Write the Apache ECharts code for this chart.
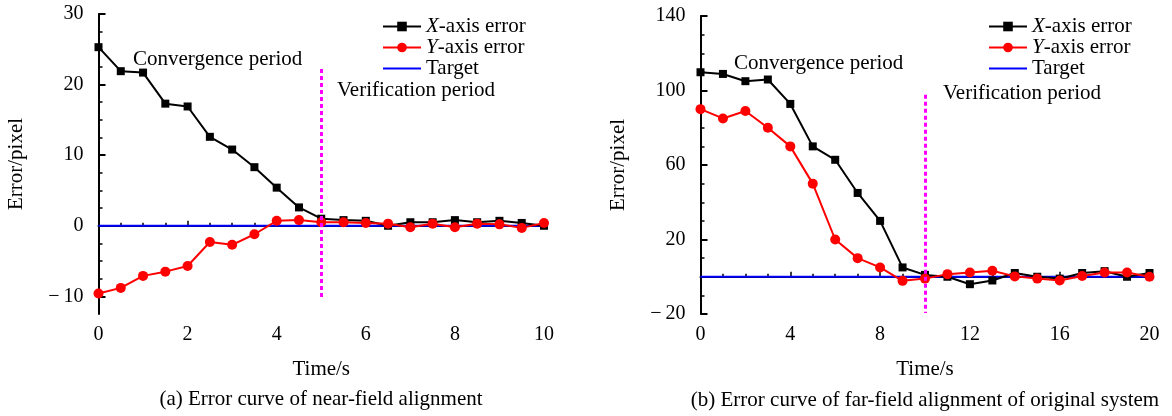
<!DOCTYPE html>
<html>
<head>
<meta charset="utf-8">
<script src="https://cdn.jsdelivr.net/npm/echarts@6/dist/echarts.min.js"></script>
<style>
  html, body { margin: 0; padding: 0; background: #fff; }
  #main { width: 1172px; height: 416px; }
</style>
</head>
<body>
<div id="main"></div>
<script>
// (a) near-field alignment
var timeA = [0, 0.5, 1, 1.5, 2, 2.5, 3, 3.5, 4, 4.5, 5, 5.5, 6, 6.5, 7, 7.5, 8, 8.5, 9, 9.5, 10];
var xErrA = [25.3, 21.9, 21.7, 17.3, 16.9, 12.6, 10.8, 8.3, 5.4, 2.6, 1.0, 0.8, 0.7, 0.0, 0.5, 0.5, 0.8, 0.5, 0.7, 0.4, 0.0];
var yErrA = [-9.6, -8.8, -7.1, -6.5, -5.7, -2.3, -2.7, -1.2, 0.7, 0.8, 0.5, 0.5, 0.4, 0.3, -0.2, 0.3, -0.2, 0.3, 0.2, -0.3, 0.4];
var targetA = [[0, 0], [10, 0]];
var dividerA = [5, 22.2, -10.35];   // t, top, bottom
var yTicksA = [-10, 0, 10, 20, 30];
var yMinorA = [-7.5, -5, -2.5, 2.5, 5, 7.5, 12.5, 15, 17.5, 22.5, 25, 27.5];

// (b) far-field alignment of original system
var timeB = [0, 1, 2, 3, 4, 5, 6, 7, 8, 9, 10, 11, 12, 13, 14, 15, 16, 17, 18, 19, 20];
var xErrB = [109.8, 108.9, 105, 105.9, 92.8, 70, 62.8, 45, 30, 5, 1, 0, -4, -2, 2, 0, -1, 2, 3, 0, 2];
var yErrB = [90, 85, 89, 80, 70, 50, 20, 10, 5, -2.2, -1, 1.4, 2.3, 3.2, 0.2, -1, -2, 0.4, 2.3, 2.3, 0];
var targetB = [[0, 0], [20, 0]];
var dividerB = [10, 97.7, -19.5];
var yTicksB = [-20, 20, 60, 100, 140];
var yMinorB = [-10, 0, 10, 30, 40, 50, 70, 80, 90, 110, 120, 130];

var FONT = '"Liberation Serif", "Times New Roman", serif';

function pairs(t, v) {
  var out = [];
  for (var i = 0; i < t.length; i++) out.push([t[i], v[i]]);
  return out;
}

function fmtNum(v) {
  return v < 0 ? '\u2212\u2009' + (-v) : String(v);
}

function xAxisOf(grid, max, interval) {
  return {
    type: 'value', gridIndex: grid, min: 0, max: max, interval: interval,
    name: 'Time/s', nameLocation: 'middle', nameGap: 45,
    nameTextStyle: { fontFamily: FONT, fontSize: 21, color: '#000' },
    axisLine: { lineStyle: { color: '#000', width: 2 } },
    axisTick: { inside: true, length: 5, lineStyle: { color: '#000', width: 1.5 } },
    minorTick: { show: true, splitNumber: 4, length: 3, lineStyle: { color: '#000', width: 1.5 } },
    axisLabel: { fontFamily: FONT, fontSize: 20, color: '#000', margin: 11 },
    splitLine: { show: false }
  };
}

function yAxesOf(grid, min, max, ticks, minor) {
  return [{
    type: 'value', gridIndex: grid, min: min, max: max,
    name: 'Error/pixel', nameLocation: 'middle', nameGap: 72,
    nameTextStyle: { fontFamily: FONT, fontSize: 21, color: '#000' },
    axisLine: { show: true, lineStyle: { color: '#000', width: 2 } },
    axisTick: { show: true, inside: true, length: 7, customValues: ticks, lineStyle: { color: '#000', width: 2 } },
    axisLabel: { fontFamily: FONT, fontSize: 20, color: '#000', margin: 15, customValues: ticks, formatter: fmtNum },
    splitLine: { show: false }
  }, {
    type: 'value', gridIndex: grid, min: min, max: max, position: 'left',
    axisLine: { show: false },
    axisTick: { show: true, inside: true, length: 4, customValues: minor, lineStyle: { color: '#000', width: 1.5 } },
    axisLabel: { show: false },
    splitLine: { show: false }
  }];
}

function seriesOf(idx, t, xe, ye, target, divider) {
  return [{
    name: 'X-axis error', type: 'line', xAxisIndex: idx, yAxisIndex: idx * 2,
    data: pairs(t, xe), symbol: 'rect', symbolSize: 8, color: '#000',
    lineStyle: { width: 2, color: '#000' }, itemStyle: { color: '#000' }, z: 3
  }, {
    name: 'Y-axis error', type: 'line', xAxisIndex: idx, yAxisIndex: idx * 2,
    data: pairs(t, ye), symbol: 'circle', symbolSize: 10, color: '#ff0000',
    lineStyle: { width: 2, color: '#ff0000' }, itemStyle: { color: '#ff0000' }, z: 4
  }, {
    name: 'Target', type: 'line', xAxisIndex: idx, yAxisIndex: idx * 2,
    data: target, symbol: 'none', color: '#0000ff',
    lineStyle: { width: 2, color: '#0000ff' }, z: 2,
    markLine: {
      silent: true, symbol: 'none', label: { show: false },
      lineStyle: { color: '#ff00ff', width: 3, type: [4, 3] },
      data: [[{ coord: [divider[0], divider[1]] }, { coord: [divider[0], divider[2]] }]]
    }
  }];
}

function legendOf(left) {
  return {
    orient: 'vertical', left: left, top: 11, itemWidth: 38, itemHeight: 12, itemGap: 0,
    data: ['X-axis error', 'Y-axis error', { name: 'Target', itemStyle: { opacity: 0 } }],
    formatter: function (name) {
      if (name.charAt(1) === '-') return '{it|' + name.charAt(0) + '}' + name.slice(1);
      return name;
    },
    textStyle: {
      fontFamily: FONT, fontSize: 21, color: '#000', lineHeight: 20,
      rich: { it: { fontFamily: FONT, fontSize: 21, fontStyle: 'italic', color: '#000', lineHeight: 20 } }
    }
  };
}

function label(x, y, text, align) {
  return {
    type: 'text', x: x, y: y, silent: true,
    style: { text: text, font: '21px ' + FONT, fill: '#000', textAlign: align || 'left', textVerticalAlign: 'middle' }
  };
}

var chart = echarts.init(document.getElementById('main'), null, { renderer: 'canvas' });

var option = {
  backgroundColor: '#fff',
  animation: false,
  grid: [
    { left: 98.5, top: 14, width: 445.5, height: 300 },
    { left: 700.5, top: 16, width: 449, height: 298 }
  ],
  xAxis: [xAxisOf(0, 10, 2), xAxisOf(1, 20, 4)],
  yAxis: yAxesOf(0, -12.5, 30, yTicksA, yMinorA).concat(yAxesOf(1, -20, 140, yTicksB, yMinorB)),
  legend: [legendOf(377), legendOf(983)],
  series: seriesOf(0, timeA, xErrA, yErrA, targetA, dividerA)
    .concat(seriesOf(1, timeB, xErrB, yErrB, targetB, dividerB)),
  graphic: [
    label(133, 59, 'Convergence period'),
    label(337, 90, 'Verification period'),
    label(734, 63, 'Convergence period'),
    label(943, 93, 'Verification period'),
    label(321, 399, '(a) Error curve of near-field alignment', 'center'),
    label(925, 400, '(b) Error curve of far-field alignment of original system', 'center')
  ]
};

chart.setOption(option);
</script>
</body>
</html>
